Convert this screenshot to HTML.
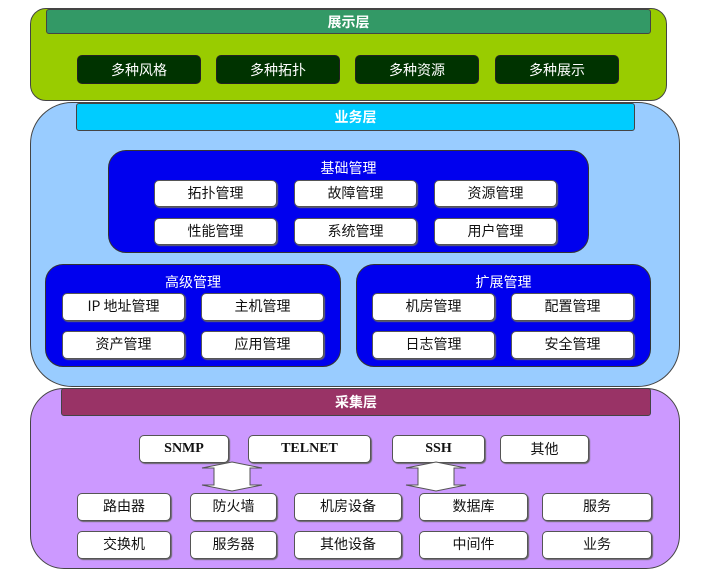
<!DOCTYPE html><html><head><meta charset="utf-8"><style>
body{margin:0;width:719px;height:579px;background:#fff;position:relative;overflow:hidden;font-family:"Liberation Serif","Noto Sans CJK SC",serif}
div{position:absolute;box-sizing:border-box}
.p{border:1px solid #444}
.b{background:#fff;border:1px solid #555;border-radius:5px;font-size:14px;color:#111;text-align:center;box-shadow:1px 1px 1px #666}
.d{background:#003300;border:1px solid #222;border-radius:5px;color:#fff;font-size:14px;text-align:center;line-height:28px;font-family:"Noto Sans CJK SC",sans-serif}
.h{color:#fff;font-weight:bold;font-size:14px;text-align:center;font-family:"Noto Sans CJK SC",sans-serif;border:1px solid #444;border-radius:3px}
.g{border:1px solid #333;background:#0000ee;border-radius:18px}
.t{color:#fff;font-size:14px;text-align:center;font-family:"Noto Sans CJK SC",sans-serif;position:absolute;width:100%;top:10px;line-height:14px}
.m{font-family:"Noto Sans CJK SC",sans-serif;line-height:25px}
.r{font-family:"Liberation Serif",serif;font-weight:bold;line-height:26px}
</style></head><body>
<div class="p" style="left:30px;top:8px;width:637px;height:93px;background:#99cc00;border-radius:16px"></div>
<div class="h" style="left:46px;top:9px;width:605px;height:25px;background:#339966;line-height:24px">展示层</div>
<div class="d" style="left:77px;top:55px;width:124px;height:29px">多种风格</div>
<div class="d" style="left:216px;top:55px;width:124px;height:29px">多种拓扑</div>
<div class="d" style="left:355px;top:55px;width:124px;height:29px">多种资源</div>
<div class="d" style="left:495px;top:55px;width:124px;height:29px">多种展示</div>

<div class="p" style="left:30px;top:102px;width:650px;height:285px;background:#99ccff;border-radius:42px"></div>
<div class="h" style="left:76px;top:103px;width:559px;height:28px;background:#00ccff;line-height:27px">业务层</div>
<div class="g" style="left:108px;top:150px;width:481px;height:103px"><div class="t">基础管理</div></div>
<div class="b m" style="left:154px;top:180px;width:123px;height:27px">拓扑管理</div>
<div class="b m" style="left:294px;top:180px;width:123px;height:27px">故障管理</div>
<div class="b m" style="left:434px;top:180px;width:123px;height:27px">资源管理</div>
<div class="b m" style="left:154px;top:218px;width:123px;height:27px">性能管理</div>
<div class="b m" style="left:294px;top:218px;width:123px;height:27px">系统管理</div>
<div class="b m" style="left:434px;top:218px;width:123px;height:27px">用户管理</div>
<div class="g" style="left:45px;top:264px;width:296px;height:103px"><div class="t">高级管理</div></div>
<div class="b m" style="left:62px;top:293px;width:123px;height:28px">IP 地址管理</div>
<div class="b m" style="left:201px;top:293px;width:123px;height:28px">主机管理</div>
<div class="b m" style="left:62px;top:331px;width:123px;height:28px">资产管理</div>
<div class="b m" style="left:201px;top:331px;width:123px;height:28px">应用管理</div>
<div class="g" style="left:356px;top:264px;width:295px;height:103px"><div class="t">扩展管理</div></div>
<div class="b m" style="left:372px;top:293px;width:123px;height:28px">机房管理</div>
<div class="b m" style="left:511px;top:293px;width:123px;height:28px">配置管理</div>
<div class="b m" style="left:372px;top:331px;width:123px;height:28px">日志管理</div>
<div class="b m" style="left:511px;top:331px;width:123px;height:28px">安全管理</div>

<div class="p" style="left:30px;top:388px;width:650px;height:181px;background:#cc99ff;border-radius:34px"></div>
<div class="h" style="left:61px;top:388px;width:590px;height:28px;background:#993366;line-height:27px">采集层</div>
<div class="b r" style="left:139px;top:435px;width:90px;height:28px">SNMP</div>
<div class="b r" style="left:248px;top:435px;width:123px;height:28px">TELNET</div>
<div class="b r" style="left:392px;top:435px;width:93px;height:28px">SSH</div>
<div class="b m" style="left:500px;top:435px;width:89px;height:28px;line-height:26px">其他</div>
<svg style="position:absolute;left:0;top:0" width="719" height="579">
<polygon points="232,462 262,468 250,468 250,485 262,485 232,491 202,485 214,485 214,468 202,468" fill="#fff" stroke="#555"/>
<polygon points="436,462 466,468 454,468 454,485 466,485 436,491 406,485 418,485 418,468 406,468" fill="#fff" stroke="#555"/>
</svg>
<div class="b m" style="left:77px;top:493px;width:94px;height:28px">路由器</div>
<div class="b m" style="left:190px;top:493px;width:87px;height:28px">防火墙</div>
<div class="b m" style="left:294px;top:493px;width:108px;height:28px">机房设备</div>
<div class="b m" style="left:419px;top:493px;width:109px;height:28px">数据库</div>
<div class="b m" style="left:542px;top:493px;width:110px;height:28px">服务</div>
<div class="b m" style="left:77px;top:531px;width:94px;height:28px">交换机</div>
<div class="b m" style="left:190px;top:531px;width:87px;height:28px">服务器</div>
<div class="b m" style="left:294px;top:531px;width:108px;height:28px">其他设备</div>
<div class="b m" style="left:419px;top:531px;width:109px;height:28px">中间件</div>
<div class="b m" style="left:542px;top:531px;width:110px;height:28px">业务</div>
</body></html>
